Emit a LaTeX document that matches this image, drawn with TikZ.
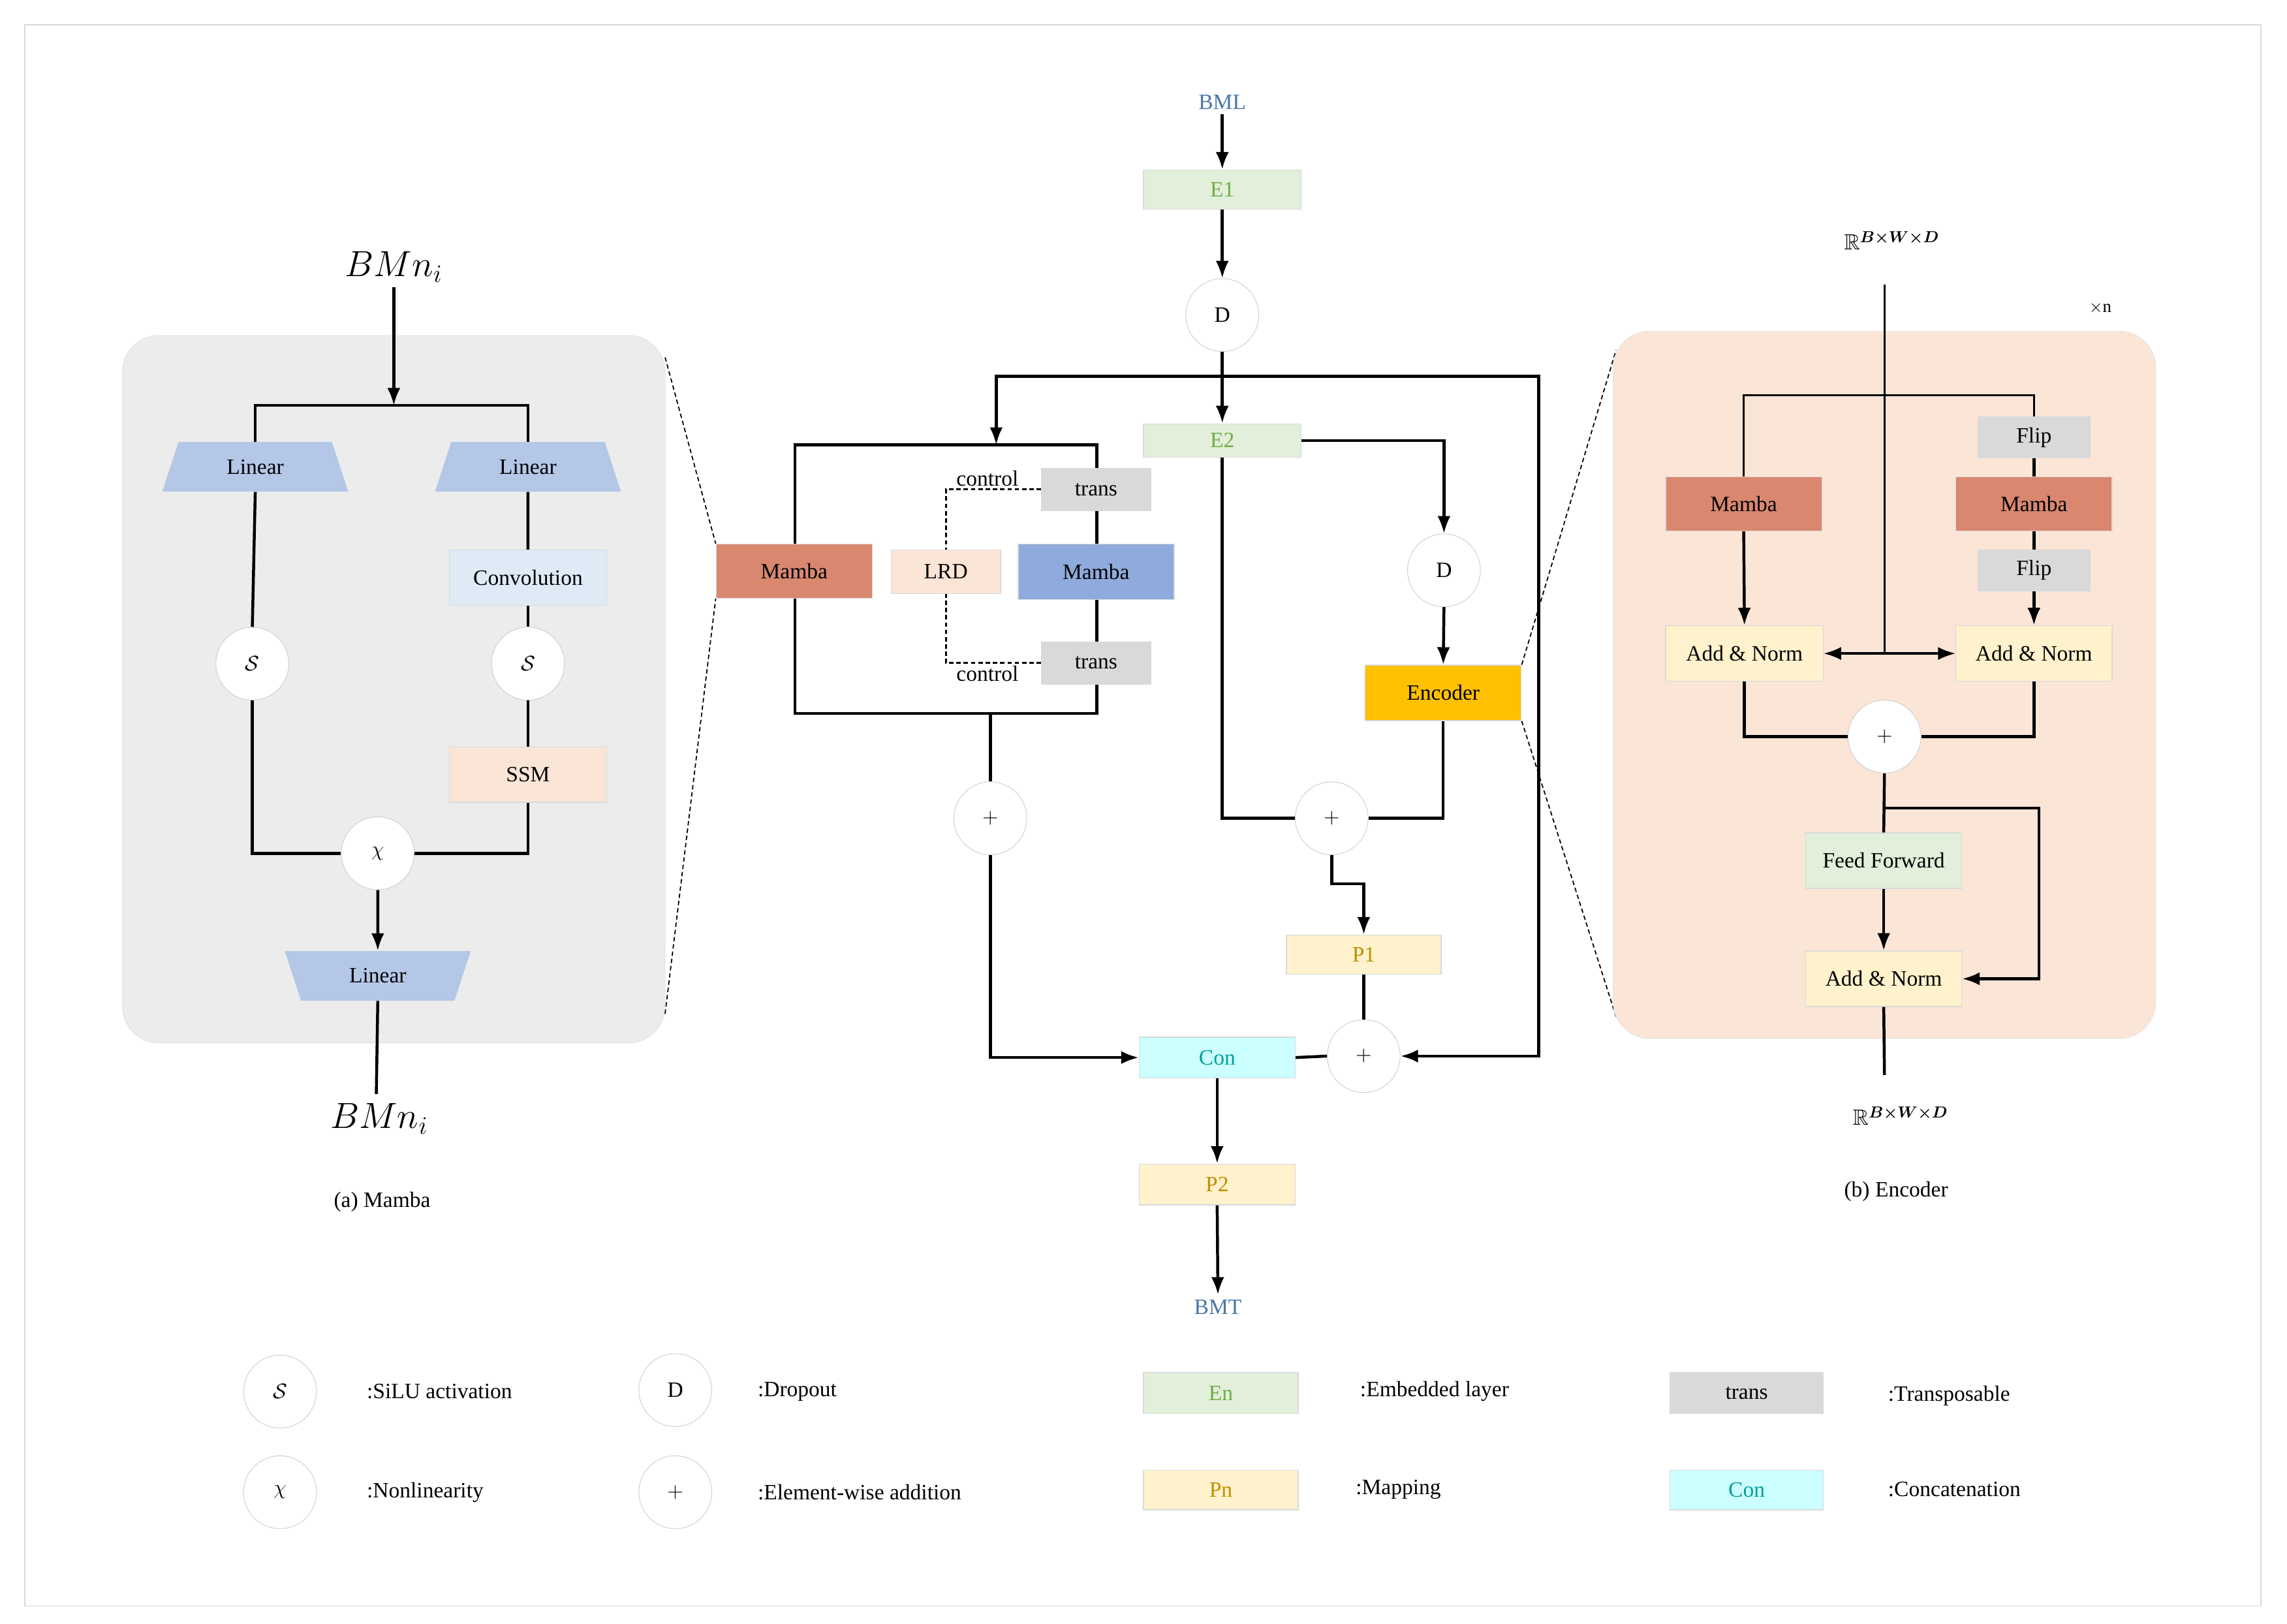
\documentclass[tikz,border=0pt]{standalone}
\usepackage{amsmath}
\usepackage{amssymb}
\usepackage{fontspec}
\setmainfont{Liberation Serif}
\usetikzlibrary{shapes.geometric,arrows.meta}
\definecolor{cgray}{HTML}{ECECEC}
\definecolor{cpeach}{HTML}{FBE5D6}
\definecolor{cgreen}{HTML}{E2EFDA}
\definecolor{tgreen}{HTML}{70AD47}
\definecolor{cyel}{HTML}{FFF2CC}
\definecolor{tyel}{HTML}{BF9000}
\definecolor{ccyan}{HTML}{CCFFFF}
\definecolor{tcyan}{HTML}{00A0A0}
\definecolor{cred}{HTML}{D9876F}
\definecolor{cblue}{HTML}{8FAADC}
\definecolor{clin}{HTML}{B4C7E7}
\definecolor{cconv}{HTML}{DEEAF6}
\definecolor{ctr}{HTML}{D9D9D9}
\definecolor{corange}{HTML}{FFC000}
\definecolor{tblue}{HTML}{4A76A8}
\begin{document}
\begin{tikzpicture}[x=1pt,y=-1pt,
  every node/.style={font=\fontsize{15}{18}\selectfont},
  box/.style={draw=black!15,line width=0.6pt,inner sep=0pt},
  circ/.style={circle,draw=black!20,fill=white,minimum size=50pt,inner sep=0pt},
  lin/.style={trapezium,trapezium stretches=true,fill=clin,minimum width=128pt,minimum height=34pt,trapezium left angle=67.6,trapezium right angle=67.6,inner sep=0pt},
  ln/.style={line width=2pt},
  ar/.style={line width=2pt,-{Latex[length=12pt,width=9pt]}},
  dl/.style={densely dashed,line width=0.8pt}]
\useasboundingbox (0,0) rectangle (1568,1113);
\draw[black!15,line width=0.8pt] (17,17) rectangle (1550,1101);
% ---------- left panel
\fill[cgray,draw=black!12,rounded corners=25pt] (84,230) rectangle (456,715);
\node (bmtop) at (270,183) {\fontsize{24}{26}\selectfont $BMn_i$};
\node[lin] (linL) at (175,320) {Linear};
\node[lin] (linR) at (362,320) {Linear};
\node[box,fill=cconv,minimum width=108pt,minimum height=38pt] (conv) at (362,396) {Convolution};
\node[circ] (sL) at (173,455) {$\mathcal{S}$};
\node[circ] (sR) at (362,455) {$\mathcal{S}$};
\node[box,fill=cpeach,minimum width=108pt,minimum height=38pt] (ssm) at (362,531) {SSM};
\node[circ] (xx) at (259,585) {$\chi$};
\node[lin,trapezium left angle=112.4,trapezium right angle=112.4] (linB) at (259,669) {Linear};
\node (bmbot) at (260,767) {\fontsize{24}{26}\selectfont $BMn_i$};
\node (capa) at (262,824) {(a)~Mamba};
\coordinate (split) at (270,278);
\draw[ar] (bmtop.south) -- (split);
\draw[ln] (linL.north) |- (split) -| (linR.north);
\draw[ln] (linL.south) -- (sL.north);
\draw[ln] (linR.south) -- (conv.north);
\draw[ln] (conv.south) -- (sR.north);
\draw[ln] (sR.south) -- (ssm.north);
\draw[ln] (sL.south) |- (xx.west);
\draw[ln] (ssm.south) |- (xx.east);
\draw[ar] (xx.south) -- (linB.north);
\draw[ln] (linB.south) -- (258,750);
% ---------- centre
\node[text=tblue] (bml) at (838,70) {BML};
\node[box,fill=cgreen,text=tgreen,minimum width=108pt,minimum height=27pt] (e1) at (838,130) {E1};
\node[circ] (d1) at (838,216) {D};
\node[box,fill=cgreen,text=tgreen,minimum width=108pt,minimum height=23pt] (e2) at (838,302) {E2};
\draw[ln] (545,305) rectangle (752,489);
\node[box,fill=cred,minimum width=107pt,minimum height=37pt] (mr) at (544.5,391.5) {Mamba};
\node[box,fill=cpeach,minimum width=75pt,minimum height=30pt] (lrd) at (648.5,392) {LRD};
\node[box,fill=cblue,minimum width=107pt,minimum height=38pt] (mb) at (751.5,392) {Mamba};
\node[box,fill=ctr,minimum width=75pt,minimum height=29pt] (tr1) at (751.5,335.5) {trans};
\node[box,fill=ctr,minimum width=75pt,minimum height=29pt] (tr2) at (751.5,454.5) {trans};
\node (c1) at (677,328) {control};
\node (c2) at (677,462) {control};
\draw[dl,line width=1.5pt] (tr1.west) -| (lrd.north);
\draw[dl,line width=1.5pt] (tr2.west) -| (lrd.south);
\node[circ] (d2) at (990,391) {D};
\node[box,fill=corange,minimum width=107pt,minimum height=38pt] (enc) at (989.5,475) {Encoder};
\node[circ] (p1) at (679,561) {$+$};
\node[circ] (p2) at (913,561) {$+$};
\node[circ] (p3) at (935,724) {$+$};
\node[box,fill=cyel,text=tyel,minimum width=106pt,minimum height=27pt] (P1) at (935,654.5) {P1};
\node[box,fill=ccyan,text=tcyan,minimum width=107pt,minimum height=28pt] (con) at (834.5,725) {Con};
\node[box,fill=cyel,text=tyel,minimum width=107pt,minimum height=28pt] (P2) at (834.5,812) {P2};
\node[text=tblue] (bmt) at (835,896) {BMT};
\coordinate (br) at (838,258);
\draw[ar] (bml.south) -- (e1.north);
\draw[ar] (e1.south) -- (d1.north);
\draw[ar] (d1.south) -- (e2.north);
\draw[ar] (br) -| (683,305);
\draw[ar] (br) -| (1055,724) -- (p3.east);
\draw[ar] (e2.east) -| (d2.north);
\draw[ar] (d2.south) -- (enc.north);
\draw[ln] (enc.south) |- (p2.east);
\draw[ln] (e2.south) |- (p2.west);
\draw[ar] (p2.south) |- (935,606) -- (P1.north);
\draw[ln] (P1.south) -- (p3.north);
\draw[ln] (p3.west) -- (con.east);
\draw[ln] (679,489) -- (p1.north);
\draw[ar] (p1.south) |- (con.west);
\draw[ar] (con.south) -- (P2.north);
\draw[ar] (P2.south) -- (bmt.north);
% zoom lines
\draw[dl] (456,245) -- (mr.north west);
\draw[dl] (456,695) -- (mr.south west);
\draw[dl] (enc.north east) -- (1108,240);
\draw[dl] (enc.south east) -- (1108,697);
% ---------- right panel
\fill[cpeach,draw=black!10,rounded corners=25pt] (1106,227) rectangle (1478,712);
\node (rt) at (1297,165) {$\mathbb{R}^{\boldsymbol{B\times W\times D}}$};
\node (xn) at (1440,211) {\fontsize{12}{14}\selectfont $\times$n};
\node[box,fill=cred,minimum width=107pt,minimum height=37pt] (em1) at (1195.5,345.5) {Mamba};
\node[box,fill=ctr,minimum width=77pt,minimum height=28pt] (f1) at (1394.5,300) {Flip};
\node[box,fill=cred,minimum width=107pt,minimum height=37pt] (em2) at (1394.5,345.5) {Mamba};
\node[box,fill=ctr,minimum width=77pt,minimum height=28pt] (f2) at (1394.5,391) {Flip};
\node[box,fill=cyel,minimum width=108pt,minimum height=38pt] (an1) at (1196,448) {Add \& Norm};
\node[box,fill=cyel,minimum width=107pt,minimum height=38pt] (an2) at (1394.5,448) {Add \& Norm};
\node[circ] (ep) at (1292,505) {$+$};
\node[box,fill=cgreen,minimum width=107pt,minimum height=38pt] (ff) at (1291.5,590) {Feed Forward};
\node[box,fill=cyel,minimum width=107pt,minimum height=38pt] (an3) at (1291.5,671) {Add \& Norm};
\node (rb) at (1303,765) {$\mathbb{R}^{\boldsymbol{B\times W\times D}}$};
\node (capb) at (1300,817) {(b)~Encoder};
\coordinate (etop) at (1292,195);
\coordinate (emid) at (1292,448);
\draw[ln,line width=1.5pt] (etop) -- (emid);
\draw[ar,line width=1.5pt] (emid) -- (an1.east);
\draw[ar,line width=1.5pt] (emid) -- (an2.west);
\draw[ln,line width=1.5pt] (em1.north) |- (1292,271) -| (f1.north);
\draw[ln] (f1.south) -- (em2.north);
\draw[ln] (em2.south) -- (f2.north);
\draw[ar] (f2.south) -- (an2.north);
\draw[ar] (em1.south) -- (an1.north);
\draw[ln] (an1.south) |- (ep.west);
\draw[ln] (an2.south) |- (ep.east);
\draw[ln] (ep.south) -- (ff.north);
\draw[ar] (ff.south) -- (an3.north);
\draw[ar] (1292,554) -| (1398,671) -- (an3.east);
\draw[ln] (an3.south) -- (1292,737);
% ---------- legend
\node[circ] (l1) at (192,954) {$\mathcal{S}$};
\node[anchor=west] at (248,954) {:SiLU activation};
\node[circ] (l2) at (192,1023) {$\chi$};
\node[anchor=west] at (248,1023) {:Nonlinearity};
\node[circ] (l3) at (463,953) {D};
\node[anchor=west] at (516,954) {:Dropout};
\node[circ] (l4) at (463,1023) {$+$};
\node[anchor=west] at (516,1023) {:Element-wise addition};
\node[box,fill=cgreen,text=tgreen,minimum width=106pt,minimum height=28pt] (l5) at (837,955) {En};
\node[anchor=west] at (929,954) {:Embedded layer};
\node[box,fill=cyel,text=tyel,minimum width=106pt,minimum height=27pt] (l6) at (837,1021.5) {Pn};
\node[anchor=west] at (926,1021) {:Mapping};
\node[box,fill=ctr,minimum width=105pt,minimum height=28pt] (l7) at (1197.5,955) {trans};
\node[anchor=west] at (1291,957) {:Transposable};
\node[box,fill=ccyan,text=tcyan,minimum width=105pt,minimum height=27pt] (l8) at (1197.5,1021.5) {Con};
\node[anchor=west] at (1291,1021) {:Concatenation};
\end{tikzpicture}
\end{document}
